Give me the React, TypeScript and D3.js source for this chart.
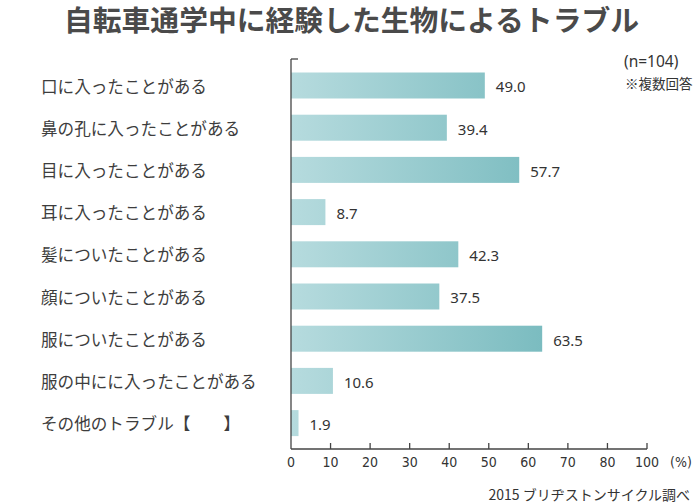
import React from "react";
import * as d3 from "d3";

const categories = [
  "口に入ったことがある",
  "鼻の孔に入ったことがある",
  "目に入ったことがある",
  "耳に入ったことがある",
  "髪についたことがある",
  "顔についたことがある",
  "服についたことがある",
  "服の中にに入ったことがある",
  "その他のトラブル【　　】",
];
const values = [49.0, 39.4, 57.7, 8.7, 42.3, 37.5, 63.5, 10.6, 1.9];
const tickValues = [0, 10, 20, 30, 40, 50, 60, 70, 80, 90];
const tickLabels = ["0", "10", "20", "30", "40", "50", "60", "70", "80", "100"];

const title = "自転車通学中に経験した生物によるトラブル";
const noteN = "(n=104)";
const noteMulti = "※複数回答";
const source = "2015 ブリヂストンサイクル調べ";

const W = 693;
const H = 504;
const JP = "'Noto Sans CJK JP', 'Noto Sans', sans-serif";
const NUM = "'Noto Sans', 'Noto Sans CJK JP', sans-serif";
const NARROW = "'Liberation Sans Narrow', 'DejaVu Sans Condensed', 'Noto Sans CJK JP', sans-serif";

export default function App() {
  const x = d3.scaleLinear().domain([0, 90]).range([291, 647]);
  const y = d3
    .scaleBand<string>()
    .domain(categories)
    .range([64.4, 444.2])
    .paddingInner(0.384)
    .paddingOuter(0.192);
  const axisY = 449;
  const axisTop = 59;

  return (
    <svg
      width={W}
      height={H}
      style={{ position: "absolute", left: 0, top: 0, background: "#fff" }}
    >
      <defs>
        <linearGradient
          id="barGrad"
          gradientUnits="userSpaceOnUse"
          x1={x(0)}
          x2={x(d3.max(values) as number)}
          y1={0}
          y2={0}
        >
          <stop offset="0%" stopColor="#b6dbde" />
          <stop offset="100%" stopColor="#7bbcc0" />
        </linearGradient>
      </defs>

      <text
        x={351.5}
        y={31}
        textAnchor="middle"
        fontFamily={JP}
        fontWeight={700}
        fontSize={28.8}
        fill="#4a4a4a"
      >
        {title}
      </text>

      <text x={624} y={67} fontFamily={NUM} fontSize={15.5} fill="#333">
        {noteN}
      </text>
      <text x={625} y={89} fontFamily={JP} fontSize={13.5} fill="#333">
        {noteMulti}
      </text>

      {categories.map((c, i) => {
        const cy = (y(c) as number) + y.bandwidth() / 2;
        return (
          <g key={c}>
            <text
              x={41}
              y={cy}
              dominantBaseline="central"
              fontFamily={JP}
              fontSize={16.6}
              fill="#3d3d3d"
            >
              {c}
            </text>
            <rect
              x={x(0)}
              y={y(c)}
              width={x(values[i]) - x(0)}
              height={y.bandwidth()}
              fill="url(#barGrad)"
            />
            <text
              x={x(values[i]) + 11}
              y={cy + 6.9}
              fontFamily={NUM}
              fontSize={15}
              fill="#333"
            >
              {values[i].toFixed(1)}
            </text>
          </g>
        );
      })}

      {/* axes */}
      <line x1={291} x2={291} y1={axisTop} y2={axisY} stroke="#444" strokeWidth={1.3} />
      <line x1={291} x2={298} y1={axisTop} y2={axisTop} stroke="#444" strokeWidth={1.3} />
      <line x1={291} x2={x(90)} y1={axisY} y2={axisY} stroke="#444" strokeWidth={1.3} />
      {tickValues.map((t, i) => (
        <g key={t}>
          {i > 0 && (
            <line
              x1={x(t)}
              x2={x(t)}
              y1={axisY - 6}
              y2={axisY}
              stroke="#444"
              strokeWidth={1.3}
            />
          )}
          <text
            x={x(t)}
            y={467}
            textAnchor="middle"
            fontFamily={NARROW}
            fontSize={14}
            fill="#333"
          >
            {tickLabels[i]}
          </text>
        </g>
      ))}
      <text x={670} y={467} fontFamily={NARROW} fontSize={14} fill="#333">
        (%)
      </text>

      <text
        x={690}
        y={500}
        textAnchor="end"
        fontFamily={JP}
        fontSize={14}
        fill="#333"
      >
        {source}
      </text>
    </svg>
  );
}
